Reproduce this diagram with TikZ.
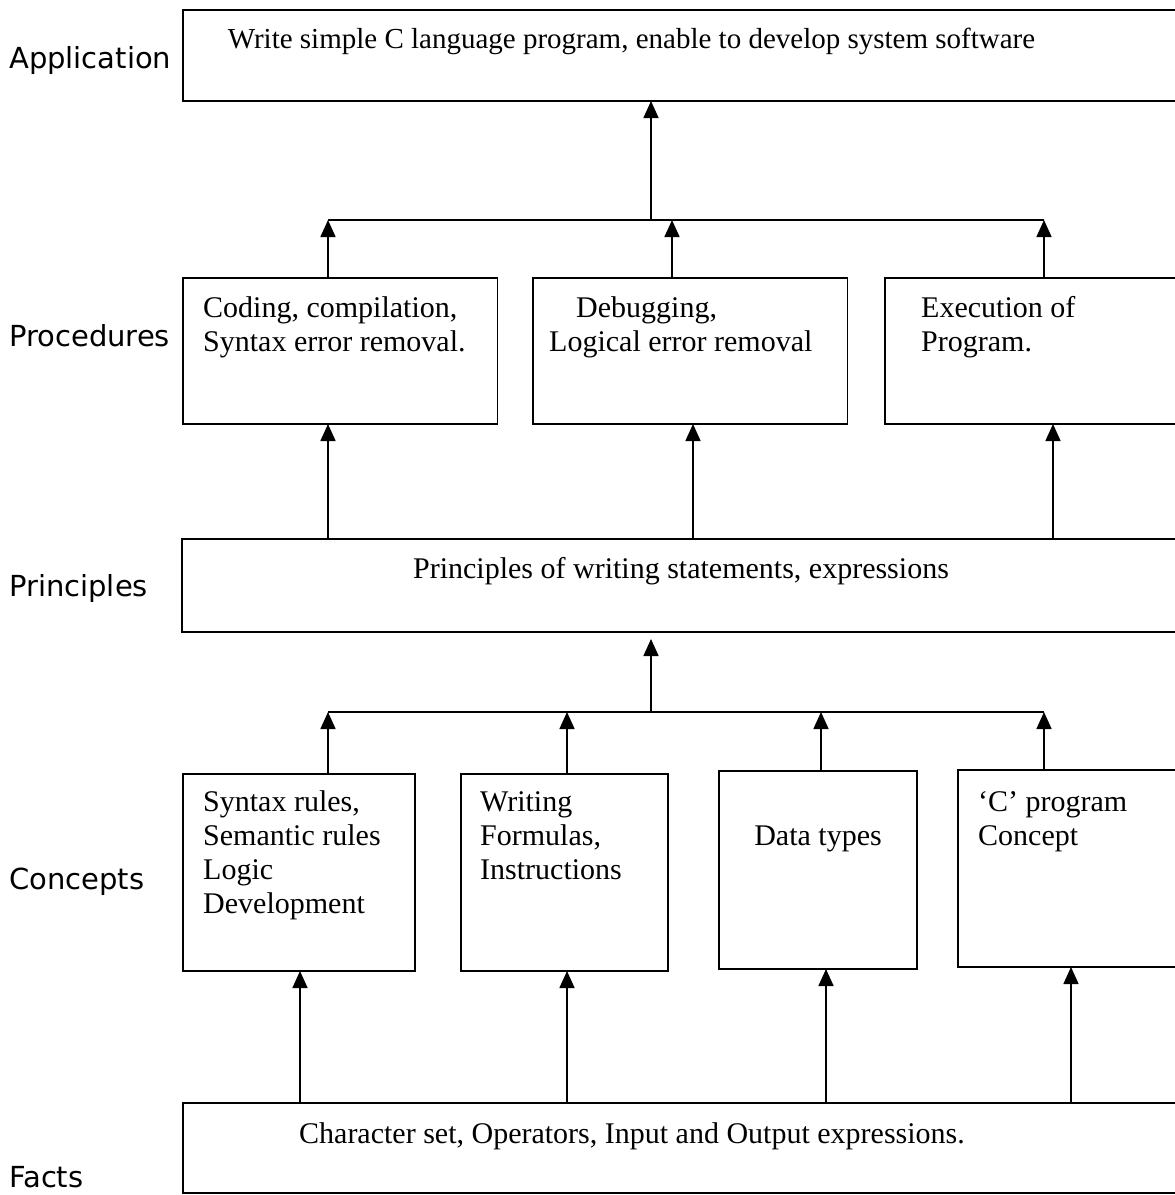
\documentclass[tikz,border=0pt]{standalone}
\usepackage{fontspec}
\setmainfont{Liberation Serif}
\newfontfamily\levelfont{DejaVu Sans}
\usetikzlibrary{arrows.meta}
\begin{document}
\begin{tikzpicture}[x=1pt,y=-1pt,
  box/.style={draw, line width=1.6pt, anchor=north west, inner sep=0pt, outer sep=0pt},
  txt/.style={inner sep=0pt, font=\fontsize{30}{34}\selectfont, align=left},
  lvl/.style={inner sep=0pt, anchor=base west, font=\levelfont\fontsize{29}{33}\selectfont},
  link/.style={line width=1.6pt},
  arr/.style={line width=1.6pt, -{Triangle[width=15pt,length=17pt]}}]
\useasboundingbox (0,0) rectangle (1175,1195);
\clip (0,0) rectangle (1175,1195);

% level names
\node[lvl] (lApp)  at (9,68)   {Application};
\node[lvl] (lProc) at (9,346)  {Procedures};
\node[lvl] (lPrin) at (9,596)  {Principles};
\node[lvl] (lCon)  at (9,889)  {Concepts};
\node[lvl] (lFac)  at (9,1187) {Facts};

% boxes
\node[box, minimum width=999pt,  minimum height=91pt]  (app)   at (183,10)   {};
\node[box, minimum width=314.5pt,minimum height=146pt] (p1)    at (183,278)  {};
\node[box, minimum width=314.5pt,minimum height=146pt] (p2)    at (533,278)  {};
\node[box, minimum width=297pt,  minimum height=146pt] (p3)    at (885,278)  {};
\node[box, minimum width=1000pt, minimum height=93pt]  (pr)    at (182,539)  {};
\node[box, minimum width=232pt,  minimum height=197pt] (c1)    at (183,774)  {};
\node[box, minimum width=207pt,  minimum height=197pt] (c2)    at (461,774)  {};
\node[box, minimum width=198pt,  minimum height=198pt] (c3)    at (719,771)  {};
\node[box, minimum width=224pt,  minimum height=197pt] (c4)    at (958,770)  {};
\node[box, minimum width=999pt,  minimum height=90pt]  (facts) at (183,1103) {};

% box texts (multi-line texts are placed by the baseline of their last line)
\node[txt, anchor=base, font=\fontsize{29}{33}\selectfont] (appT) at (631.5,48) {Write simple C language program, enable to develop system software};
\node[txt, anchor=base west] (p1T) at (203,351) {Coding, compilation,\\Syntax error removal.};
\node[txt, anchor=base west] (p2T) at (549,351) {\hspace*{27pt}Debugging,\\Logical error removal};
\node[txt, anchor=base west] (p3T) at (921,351) {Execution of\\Program.};
\node[txt, anchor=base] (prT) at (681,578) {Principles of writing statements, expressions};
\node[txt, anchor=base west] (c1T) at (203,913) {Syntax rules,\\Semantic rules\\Logic\\Development};
\node[txt, anchor=base west] (c2T) at (480,879) {Writing\\Formulas,\\Instructions};
\node[txt, anchor=base] (c3T) at (818,845) {Data types};
\node[txt, anchor=base west] (c4T) at (978,845) {‘C’ program\\Concept};
\node[txt, anchor=base] (factsT) at (632,1143) {Character set, Operators, Input and Output expressions.};

% upper bus: procedures -> application
\coordinate (b1w) at (328,220);
\coordinate (b1m) at (672,220);
\coordinate (b1c) at (651,220);
\coordinate (b1e) at (1044,220);
\draw[link] (b1w) -- (b1e);
\draw[arr] (b1w |- p1.north) -- (b1w);
\draw[arr] (b1m |- p2.north) -- (b1m);
\draw[arr] (b1e |- p3.north) -- (b1e);
\draw[arr] (b1c) -- (b1c |- app.south);

% principles -> procedures
\coordinate (q1) at (328,0);
\coordinate (q2) at (693,0);
\coordinate (q3) at (1053,0);
\draw[arr] (pr.north -| q1) -- (p1.south -| q1);
\draw[arr] (pr.north -| q2) -- (p2.south -| q2);
\draw[arr] (pr.north -| q3) -- (p3.south -| q3);

% lower bus: concepts -> principles
\coordinate (b2w) at (328,712);
\coordinate (b2b) at (567,712);
\coordinate (b2c) at (821,712);
\coordinate (b2u) at (651,712);
\coordinate (b2e) at (1044,712);
\draw[link] (b2w) -- (b2e);
\draw[arr] (b2w |- c1.north) -- (b2w);
\draw[arr] (b2b |- c2.north) -- (b2b);
\draw[arr] (b2c |- c3.north) -- (b2c);
\draw[arr] (b2e |- c4.north) -- (b2e);
\draw[arr, shorten >=7pt] (b2u) -- (b2u |- pr.south);

% facts -> concepts
\coordinate (f1) at (300,0);
\coordinate (f2) at (567,0);
\coordinate (f3) at (826,0);
\coordinate (f4) at (1071,0);
\draw[arr] (facts.north -| f1) -- (c1.south -| f1);
\draw[arr] (facts.north -| f2) -- (c2.south -| f2);
\draw[arr] (facts.north -| f3) -- (c3.south -| f3);
\draw[arr] (facts.north -| f4) -- (c4.south -| f4);
\end{tikzpicture}
\end{document}
